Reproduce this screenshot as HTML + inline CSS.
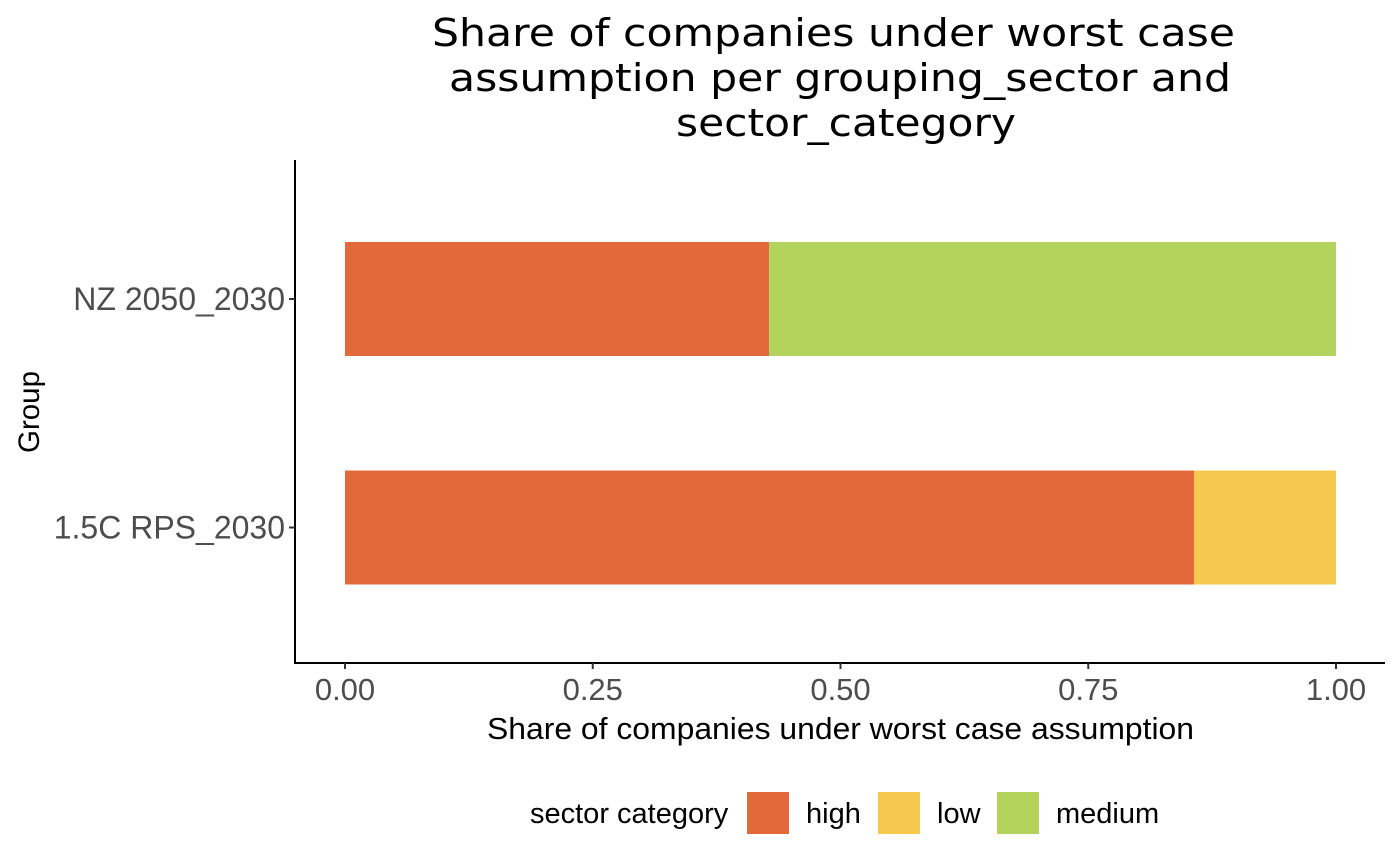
<!DOCTYPE html>
<html><head><meta charset="utf-8"><style>
body{margin:0;background:#fff;}
svg{display:block;}
.ttl{font-family:"DejaVu Sans",sans-serif;}
.lab{font-family:"Liberation Sans",sans-serif;}
</style></head><body>
<svg id="chart" width="1400" height="865" xmlns="http://www.w3.org/2000/svg">
<g class="ttl" font-size="38" fill="#000">
<text x="432" y="46" textLength="803" lengthAdjust="spacingAndGlyphs">Share of companies under worst case</text>
<text x="449" y="91" textLength="782" lengthAdjust="spacingAndGlyphs">assumption per grouping_sector and</text>
<text x="676" y="136" textLength="340" lengthAdjust="spacingAndGlyphs">sector_category</text>
</g>
<g id="bars"></g>
<line x1="295" y1="160" x2="295" y2="663" stroke="#000" stroke-width="2"/>
<line x1="294" y1="663" x2="1385" y2="663" stroke="#000" stroke-width="2"/>
<g id="xticks"></g>
<g id="yticks"></g>
<text class="lab" x="487" y="739" font-size="31" fill="#000" textLength="707" lengthAdjust="spacingAndGlyphs">Share of companies under worst case assumption</text>
<text class="lab" transform="translate(39,412) rotate(-90)" font-size="29.5" fill="#000" text-anchor="middle">Group</text>
<g id="legend" class="lab" font-size="29" fill="#000">
<text x="530" y="823">sector category</text>
</g>
</svg>
<script>
const groups = ["1.5C RPS_2030", "NZ 2050_2030"];
const categories = ["high", "low", "medium"];
const highValues = [0.857, 0.428];
const lowValues = [0.143, 0];
const mediumValues = [0, 0.572];
const xTicks = [0, 0.25, 0.5, 0.75, 1];
const xTickLabels = ["0.00", "0.25", "0.50", "0.75", "1.00"];
const colors = {high: "#E3693B", low: "#F6C94E", medium: "#B3D35C"};
const NS = "http://www.w3.org/2000/svg";
const xScale = v => 345 + v * (1336 - 345);
const yCenter = i => [527.5, 299][i];
const barH = 114;
const seriesVals = {high: highValues, low: lowValues, medium: mediumValues};
const bars = document.getElementById('bars');
groups.forEach((g, i) => {
  let acc = 0;
  categories.forEach(c => {
    const v = seriesVals[c][i];
    if (v > 0) {
      const r = document.createElementNS(NS, 'rect');
      r.setAttribute('x', xScale(acc));
      r.setAttribute('width', xScale(acc + v) - xScale(acc));
      r.setAttribute('y', yCenter(i) - barH / 2);
      r.setAttribute('height', barH);
      r.setAttribute('fill', colors[c]);
      
      
      bars.appendChild(r);
    }
    acc += v;
  });
});
const xt = document.getElementById('xticks');
xTicks.forEach((t, k) => {
  const l = document.createElementNS(NS, 'line');
  l.setAttribute('x1', xScale(t)); l.setAttribute('x2', xScale(t));
  l.setAttribute('y1', 663); l.setAttribute('y2', 669);
  l.setAttribute('stroke', '#333'); l.setAttribute('stroke-width', 2);
  
  
  xt.appendChild(l);
  const tx = document.createElementNS(NS, 'text');
  tx.setAttribute('x', xScale(t)); tx.setAttribute('y', 700);
  tx.setAttribute('text-anchor', 'middle');
  tx.setAttribute('class', 'lab');
  tx.setAttribute('font-size', '31'); tx.setAttribute('fill', '#4d4d4d');
  tx.textContent = xTickLabels[k];
  
  
  xt.appendChild(tx);
});
const yt = document.getElementById('yticks');
groups.forEach((g, i) => {
  const l = document.createElementNS(NS, 'line');
  l.setAttribute('x1', 289); l.setAttribute('x2', 295);
  l.setAttribute('y1', yCenter(i)); l.setAttribute('y2', yCenter(i));
  l.setAttribute('stroke', '#333'); l.setAttribute('stroke-width', 2);
  
  
  yt.appendChild(l);
  const tx = document.createElementNS(NS, 'text');
  tx.setAttribute('x', 285); tx.setAttribute('y', yCenter(i) + 11);
  tx.setAttribute('text-anchor', 'end');
  tx.setAttribute('class', 'lab');
  tx.setAttribute('font-size', '32'); tx.setAttribute('fill', '#4d4d4d');
  tx.textContent = g;
  
  
  yt.appendChild(tx);
});
const lg = document.getElementById('legend');
const keyX = [747, 878, 997];
categories.forEach((c, k) => {
  const r = document.createElementNS(NS, 'rect');
  r.setAttribute('x', keyX[k]); r.setAttribute('y', 792);
  r.setAttribute('width', 42); r.setAttribute('height', 42);
  r.setAttribute('fill', colors[c]);
  
  
  lg.appendChild(r);
  const tx = document.createElementNS(NS, 'text');
  tx.setAttribute('x', keyX[k] + 59); tx.setAttribute('y', 823);
  tx.textContent = c;
  
  
  lg.appendChild(tx);
});
</script>
</body></html>
